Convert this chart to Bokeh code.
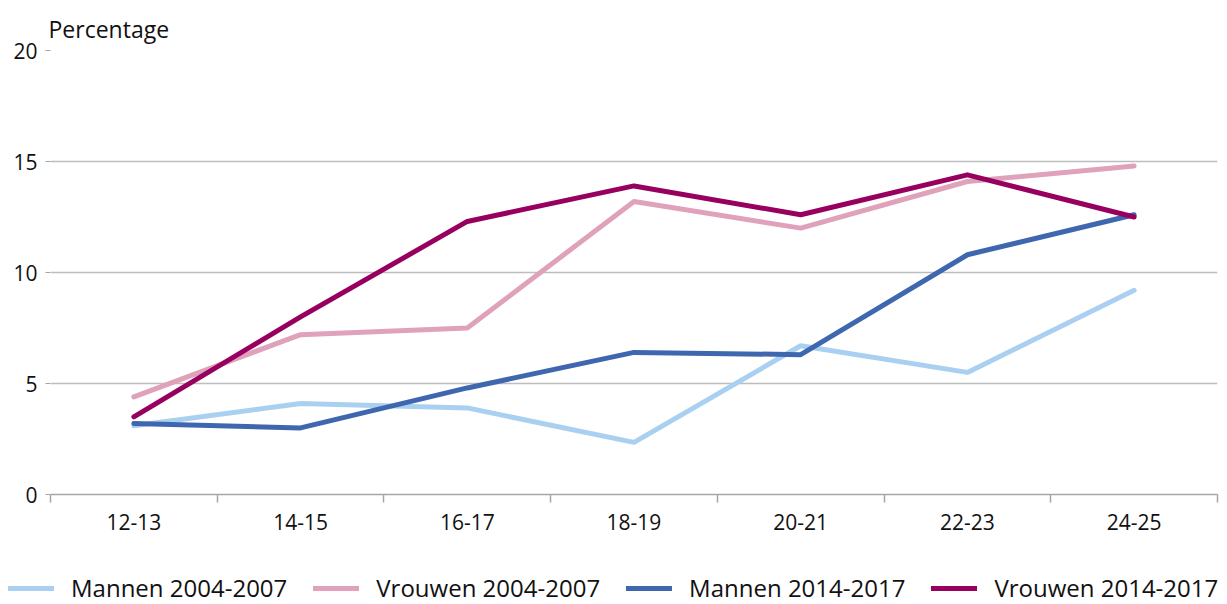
from bokeh.plotting import figure
from bokeh.models import FixedTicker, Legend, LegendItem
from bokeh.embed import file_html
from bokeh.resources import INLINE

categories = ["12-13", "14-15", "16-17", "18-19", "20-21", "22-23", "24-25"]
mannen_2004 = [3.1, 4.1, 3.9, 2.35, 6.7, 5.5, 9.2]
vrouwen_2004 = [4.4, 7.2, 7.5, 13.2, 12.0, 14.1, 14.8]
mannen_2014 = [3.2, 3.0, 4.8, 6.4, 6.3, 10.8, 12.6]
vrouwen_2014 = [3.5, 8.0, 12.3, 13.9, 12.6, 14.4, 12.5]
series_names = ["Mannen 2004-2007", "Vrouwen 2004-2007", "Mannen 2014-2017", "Vrouwen 2014-2017"]
colors = ["#AAD0F1", "#E0A1BB", "#3E67AF", "#98005F"]
y_ticks = [0, 5, 10, 15, 20]

FONT = "Open Sans"
xs = [i + 0.5 for i in range(len(categories))]
all_series = [mannen_2004, vrouwen_2004, mannen_2014, vrouwen_2014]

p = figure(width=1219, height=550, output_backend="svg", toolbar_location=None,
           x_range=(0, len(categories)), y_range=(0, 20),
           min_border_left=50, min_border_right=2, min_border_top=50, min_border_bottom=56,
           title="Percentage")
p.outline_line_color = None
p.background_fill_color = "white"

p.title.text_font = FONT
p.title.text_font_size = "23px"
p.title.text_font_style = "normal"
p.title.text_color = "#111111"
p.title.align = "left"
p.title.offset = -2
p.title.standoff = 12

for vals, c in zip(all_series, colors):
    p.line(xs, vals, line_color=c, line_width=5, line_join="round", line_cap="round")

# x axis
xt = FixedTicker(ticks=xs, minor_ticks=list(range(len(categories) + 1)))
p.xaxis.ticker = xt
p.xaxis.major_label_overrides = {x: c for x, c in zip(xs, categories)}
p.xaxis.major_tick_line_color = None
p.xaxis.major_tick_out = 0
p.xaxis.major_tick_in = 0
p.xaxis.minor_tick_line_color = "#A6A6A6"
p.xaxis.minor_tick_line_width = 1.5
p.xaxis.minor_tick_out = 8
p.xaxis.minor_tick_in = 0
p.xaxis.axis_line_color = "#A6A6A6"
p.xaxis.axis_line_width = 1.5
p.xaxis.major_label_text_font = FONT
p.xaxis.major_label_text_font_size = "21px"
p.xaxis.major_label_text_color = "#111111"
p.xaxis.major_label_standoff = 11

# y axis
p.yaxis.ticker = FixedTicker(ticks=y_ticks)
p.yaxis.axis_line_color = None
p.yaxis.major_tick_line_color = "#A6A6A6"
p.yaxis.major_tick_out = 5
p.yaxis.major_tick_in = 0
p.yaxis.minor_tick_line_color = None
p.yaxis.major_label_text_font = FONT
p.yaxis.major_label_text_font_size = "21px"
p.yaxis.major_label_text_color = "#111111"
p.yaxis.major_label_standoff = 8

p.xgrid.grid_line_color = None
p.ygrid.ticker = FixedTicker(ticks=y_ticks)
p.ygrid.grid_line_color = "#BDBDBD"
p.ygrid.grid_line_width = 1.5

# legend strip below the chart (series drawn outside its visible range, only used as legend keys)
lg = figure(width=1225, height=54, output_backend="svg", toolbar_location=None,
            x_range=(0, 1), y_range=(0, 1), min_border=0,
            x_axis_location=None, y_axis_location=None)
lg.grid.grid_line_color = None
lg.outline_line_color = None
items = []
for n, vals, c in zip(series_names, all_series, colors):
    r = lg.line(xs, vals, line_color=c, line_width=5, line_cap="round")
    items.append(LegendItem(label=n, renderers=[r]))

legend = Legend(items=items, orientation="horizontal", location=(8, 0))
legend.padding = 0
legend.margin = 0
legend.border_line_color = None
legend.background_fill_alpha = 0
legend.glyph_width = 46
legend.glyph_height = 20
legend.label_standoff = 17
legend.spacing = 26
legend.label_text_font = FONT
legend.label_text_font_size = "24px"
legend.label_text_color = "#111111"
lg.add_layout(legend, "center")

open("out.html", "w").write(file_html([p, lg], INLINE))
